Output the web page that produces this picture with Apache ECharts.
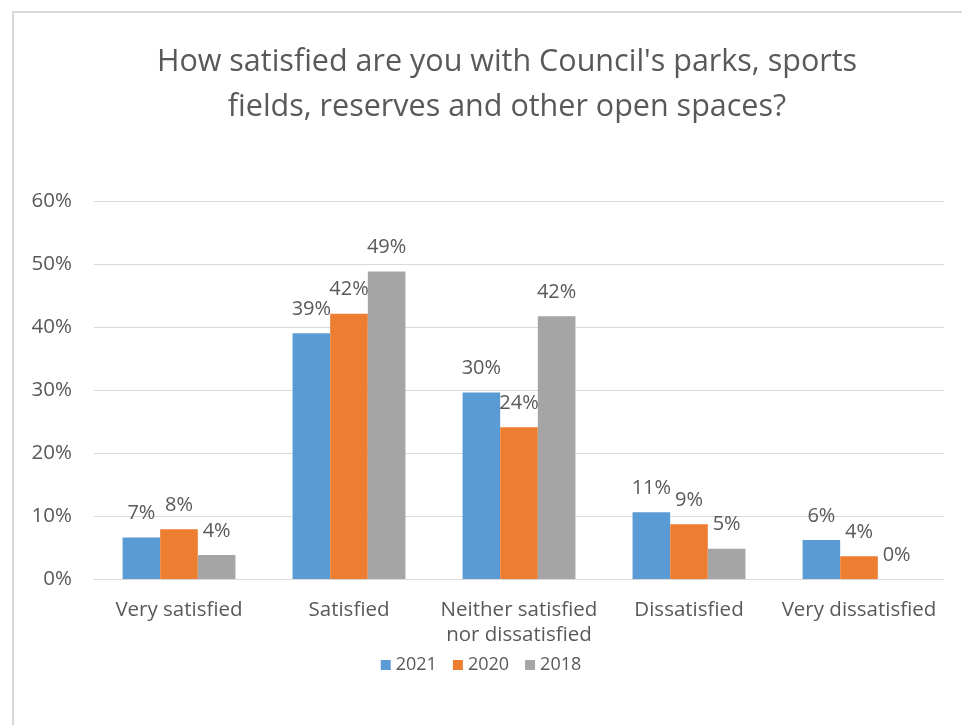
<!DOCTYPE html>
<html>
<head>
<meta charset="utf-8">
<script src="https://cdn.jsdelivr.net/npm/echarts@6/dist/echarts.min.js"></script>
<style>
  html, body { margin: 0; padding: 0; background: #ffffff; }
  #frame { position: absolute; left: 12px; top: 11px; width: 1000px; height: 800px; border: 2px solid #d9d9d9; box-sizing: border-box; }
  #chart { position: absolute; left: 0; top: 0; width: 962px; height: 725px; }
</style>
</head>
<body>
<div id="frame"></div>
<div id="chart"></div>
<script>
// Satisfaction survey: share of respondents per answer, by survey year (percent)
const categories = ['Very satisfied', 'Satisfied', 'Neither satisfied\nnor dissatisfied', 'Dissatisfied', 'Very dissatisfied'];
const years = ['2021', '2020', '2018'];
const values2021 = [6.6, 39.0, 29.6, 10.6, 6.2];
const values2020 = [7.9, 42.1, 24.1, 8.7, 3.6];
const values2018 = [3.8, 48.8, 41.7, 4.8, 0];
const yTicks = { min: 0, max: 60, interval: 10 };

const colors = ['#5B9BD5', '#ED7D31', '#A5A5A5'];
const textColor = '#595959';
const fontFamily = '"Open Sans", "Noto Sans", sans-serif';

function barSeries(name, data, color) {
  return {
    name: name,
    type: 'bar',
    data: data,
    barGap: '0%',
    barCategoryGap: '33.6%',
    itemStyle: { color: color },
    label: {
      show: true,
      position: 'top',
      distance: 14,
      color: textColor,
      fontSize: 20,
      fontFamily: fontFamily,
      formatter: p => Math.round(p.value) + '%'
    }
  };
}

const chart = echarts.init(document.getElementById('chart'), null, { renderer: 'canvas' });
chart.setOption({
  animation: false,
  backgroundColor: 'transparent',
  textStyle: { fontFamily: fontFamily, color: textColor },
  title: {
    text: "How satisfied are you with Council's parks, sports\nfields, reserves and other open spaces?",
    left: 502,
    top: 35,
    textAlign: 'center',
    textStyle: { fontSize: 30.5, fontWeight: 'normal', color: textColor, lineHeight: 45, fontFamily: fontFamily }
  },
  legend: {
    data: years,
    left: 'center',
    top: 651,
    itemWidth: 10,
    itemHeight: 10,
    itemGap: 16,
    icon: 'rect',
    textStyle: { fontSize: 18, color: textColor, fontFamily: fontFamily }
  },
  grid: { left: 94, right: 18, top: 201, bottom: 146, containLabel: false },
  xAxis: {
    type: 'category',
    data: categories,
    axisTick: { show: false },
    axisLine: { lineStyle: { color: '#d9d9d9', width: 1 } },
    axisLabel: { color: textColor, fontSize: 20.5, lineHeight: 25, margin: 19, interval: 0, fontFamily: fontFamily }
  },
  yAxis: {
    type: 'value',
    min: yTicks.min,
    max: yTicks.max,
    interval: yTicks.interval,
    axisLine: { show: false },
    axisTick: { show: false },
    splitLine: { lineStyle: { color: '#d9d9d9', width: 1 } },
    axisLabel: { color: textColor, fontSize: 20.5, margin: 22, formatter: '{value}%', fontFamily: fontFamily }
  },
  series: [
    barSeries(years[0], values2021, colors[0]),
    barSeries(years[1], values2020, colors[1]),
    barSeries(years[2], values2018, colors[2])
  ]
});
</script>
</body>
</html>
